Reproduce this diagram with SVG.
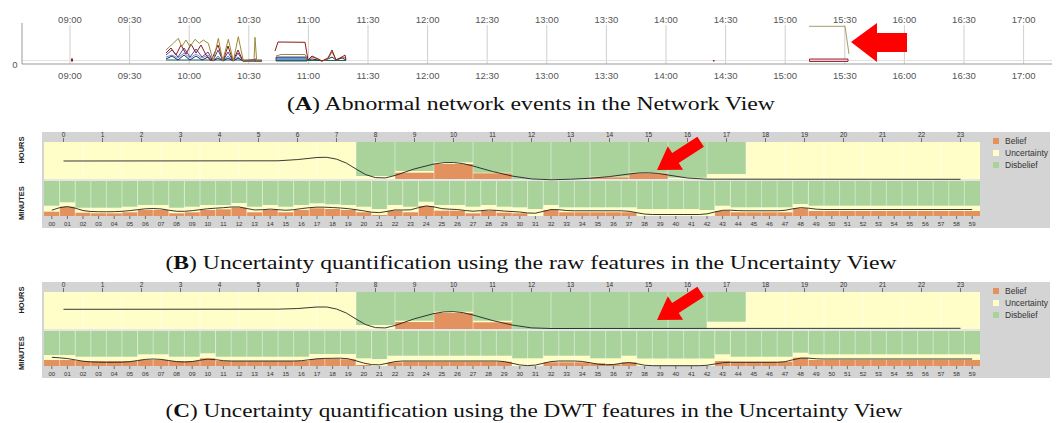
<svg xmlns="http://www.w3.org/2000/svg" xmlns:xlink="http://www.w3.org/1999/xlink" width="1057" height="423" viewBox="0 0 1057 423">
<style>
.tl{font-family:"Liberation Sans",Arial,sans-serif;font-size:9.5px;fill:#555;text-anchor:middle}
.grid{stroke:#cfcfcf;stroke-width:1;fill:none}
.ax{stroke:#999;stroke-width:1;fill:none}
.hl{font-family:"Liberation Sans",Arial,sans-serif;font-size:6.5px;fill:#333;text-anchor:middle}
.ml{font-family:"Liberation Sans",Arial,sans-serif;font-size:6px;fill:#333;text-anchor:middle}
.lab{font-family:"Liberation Sans",Arial,sans-serif;font-size:7.5px;font-weight:bold;fill:#222;text-anchor:middle}
.leg{font-family:"Liberation Sans",Arial,sans-serif;font-size:8.5px;fill:#333}
.tick{stroke:#555;stroke-width:0.8;fill:none}
.y{fill:#FFFEC8}
.g{fill:#A9D39B}
.o{fill:#E3925F}
.sep{stroke:#ffffff;stroke-opacity:0.45;stroke-width:1;fill:none}
.cv{stroke:#222;stroke-width:0.9;fill:none}
.cap{font-family:"Liberation Serif","Times New Roman",serif;font-size:19px;fill:#111;text-anchor:middle}
.arrow{fill:#FF0000}
</style>
<defs>
<g id="frame">
<rect x="42" y="132" width="1008" height="96" fill="#D4D4D4"/>
<rect x="44" y="179" width="936" height="2" fill="#E6E6E6"/>
<text class="lab" transform="translate(24,150) rotate(-90)">HOURS</text>
<text class="lab" transform="translate(24,203) rotate(-90)">MINUTES</text>
<g class="hl">
<text x="63.5" y="136.5">0</text><text x="102.5" y="136.5">1</text><text x="141.5" y="136.5">2</text><text x="180.5" y="136.5">3</text><text x="219.5" y="136.5">4</text><text x="258.5" y="136.5">5</text><text x="297.5" y="136.5">6</text><text x="336.5" y="136.5">7</text><text x="375.5" y="136.5">8</text><text x="414.5" y="136.5">9</text><text x="453.5" y="136.5">10</text><text x="492.5" y="136.5">11</text><text x="531.5" y="136.5">12</text><text x="570.5" y="136.5">13</text><text x="609.5" y="136.5">14</text><text x="648.5" y="136.5">15</text><text x="687.5" y="136.5">16</text><text x="726.5" y="136.5">17</text><text x="765.5" y="136.5">18</text><text x="804.5" y="136.5">19</text><text x="843.5" y="136.5">20</text><text x="882.5" y="136.5">21</text><text x="921.5" y="136.5">22</text><text x="960.5" y="136.5">23</text>
</g>
<path class="tick" d="M63.5,138v4M102.5,138v4M141.5,138v4M180.5,138v4M219.5,138v4M258.5,138v4M297.5,138v4M336.5,138v4M375.5,138v4M414.5,138v4M453.5,138v4M492.5,138v4M531.5,138v4M570.5,138v4M609.5,138v4M648.5,138v4M687.5,138v4M726.5,138v4M765.5,138v4M804.5,138v4M843.5,138v4M882.5,138v4M921.5,138v4M960.5,138v4"/>
<path class="tick" d="M51.8,216v3M67.4,216v3M83,216v3M98.6,216v3M114.2,216v3M129.8,216v3M145.4,216v3M161,216v3M176.6,216v3M192.2,216v3M207.8,216v3M223.4,216v3M239,216v3M254.6,216v3M270.2,216v3M285.8,216v3M301.4,216v3M317,216v3M332.6,216v3M348.2,216v3M363.8,216v3M379.4,216v3M395,216v3M410.6,216v3M426.2,216v3M441.8,216v3M457.4,216v3M473,216v3M488.6,216v3M504.2,216v3M519.8,216v3M535.4,216v3M551,216v3M566.6,216v3M582.2,216v3M597.8,216v3M613.4,216v3M629,216v3M644.6,216v3M660.2,216v3M675.8,216v3M691.4,216v3M707,216v3M722.6,216v3M738.2,216v3M753.8,216v3M769.4,216v3M785,216v3M800.6,216v3M816.2,216v3M831.8,216v3M847.4,216v3M863,216v3M878.6,216v3M894.2,216v3M909.8,216v3M925.4,216v3M941,216v3M956.6,216v3M972.2,216v3"/>
<g class="ml">
<text x="51.8" y="226">00</text><text x="67.4" y="226">01</text><text x="83" y="226">02</text><text x="98.6" y="226">03</text><text x="114.2" y="226">04</text><text x="129.8" y="226">05</text><text x="145.4" y="226">06</text><text x="161" y="226">07</text><text x="176.6" y="226">08</text><text x="192.2" y="226">09</text><text x="207.8" y="226">10</text><text x="223.4" y="226">11</text><text x="239" y="226">12</text><text x="254.6" y="226">13</text><text x="270.2" y="226">14</text><text x="285.8" y="226">15</text><text x="301.4" y="226">16</text><text x="317" y="226">17</text><text x="332.6" y="226">18</text><text x="348.2" y="226">19</text><text x="363.8" y="226">20</text><text x="379.4" y="226">21</text><text x="395" y="226">22</text><text x="410.6" y="226">23</text><text x="426.2" y="226">24</text><text x="441.8" y="226">25</text><text x="457.4" y="226">26</text><text x="473" y="226">27</text><text x="488.6" y="226">28</text><text x="504.2" y="226">29</text><text x="519.8" y="226">30</text><text x="535.4" y="226">31</text><text x="551" y="226">32</text><text x="566.6" y="226">33</text><text x="582.2" y="226">34</text><text x="597.8" y="226">35</text><text x="613.4" y="226">36</text><text x="629" y="226">37</text><text x="644.6" y="226">38</text><text x="660.2" y="226">39</text><text x="675.8" y="226">40</text><text x="691.4" y="226">41</text><text x="707" y="226">42</text><text x="722.6" y="226">43</text><text x="738.2" y="226">44</text><text x="753.8" y="226">45</text><text x="769.4" y="226">46</text><text x="785" y="226">47</text><text x="800.6" y="226">48</text><text x="816.2" y="226">49</text><text x="831.8" y="226">50</text><text x="847.4" y="226">51</text><text x="863" y="226">52</text><text x="878.6" y="226">53</text><text x="894.2" y="226">54</text><text x="909.8" y="226">55</text><text x="925.4" y="226">56</text><text x="941" y="226">57</text><text x="956.6" y="226">58</text><text x="972.2" y="226">59</text>
</g>
<rect x="993" y="138" width="6" height="6" class="o"/>
<rect x="993" y="150" width="6" height="6" class="y"/>
<rect x="993" y="162" width="6" height="6" class="g"/>
<text class="leg" x="1005" y="144">Belief</text>
<text class="leg" x="1005" y="156">Uncertainty</text>
<text class="leg" x="1005" y="168">Disbelief</text>
</g>
<path id="hsep" class="sep" d="M83,142v37M122,142v37M161,142v37M200,142v37M239,142v37M278,142v37M317,142v37M356,142v37M395,142v37M434,142v37M473,142v37M512,142v37M551,142v37M590,142v37M629,142v37M668,142v37M707,142v37M746,142v37M785,142v37M824,142v37M863,142v37M902,142v37M941,142v37"/>
<path id="msep" class="sep" d="M59.6,181v35M75.2,181v35M90.8,181v35M106.4,181v35M122,181v35M137.6,181v35M153.2,181v35M168.8,181v35M184.4,181v35M200,181v35M215.6,181v35M231.2,181v35M246.8,181v35M262.4,181v35M278,181v35M293.6,181v35M309.2,181v35M324.8,181v35M340.4,181v35M356,181v35M371.6,181v35M387.2,181v35M402.8,181v35M418.4,181v35M434,181v35M449.6,181v35M465.2,181v35M480.8,181v35M496.4,181v35M512,181v35M527.6,181v35M543.2,181v35M558.8,181v35M574.4,181v35M590,181v35M605.6,181v35M621.2,181v35M636.8,181v35M652.4,181v35M668,181v35M683.6,181v35M699.2,181v35M714.8,181v35M730.4,181v35M746,181v35M761.6,181v35M777.2,181v35M792.8,181v35M808.4,181v35M824,181v35M839.6,181v35M855.2,181v35M870.8,181v35M886.4,181v35M902,181v35M917.6,181v35M933.2,181v35M948.8,181v35M964.4,181v35"/>
<polygon id="arr" class="arrow" points="0,0 -22,-14 -22,-6 -52,-6 -52,6 -22,6 -22,14"/>
</defs>

<g id="panelA">
<g class="tl">
<text x="70" y="22.5">09:00</text><text x="129.6" y="22.5">09:30</text><text x="189.2" y="22.5">10:00</text><text x="248.8" y="22.5">10:30</text><text x="308.4" y="22.5">11:00</text><text x="368" y="22.5">11:30</text><text x="427.6" y="22.5">12:00</text><text x="487.2" y="22.5">12:30</text><text x="546.8" y="22.5">13:00</text><text x="606.4" y="22.5">13:30</text><text x="666" y="22.5">14:00</text><text x="725.6" y="22.5">14:30</text><text x="785.2" y="22.5">15:00</text><text x="844.8" y="22.5">15:30</text><text x="904.4" y="22.5">16:00</text><text x="964" y="22.5">16:30</text><text x="1023.6" y="22.5">17:00</text>
<text x="70" y="79">09:00</text><text x="129.6" y="79">09:30</text><text x="189.2" y="79">10:00</text><text x="248.8" y="79">10:30</text><text x="308.4" y="79">11:00</text><text x="368" y="79">11:30</text><text x="427.6" y="79">12:00</text><text x="487.2" y="79">12:30</text><text x="546.8" y="79">13:00</text><text x="606.4" y="79">13:30</text><text x="666" y="79">14:00</text><text x="725.6" y="79">14:30</text><text x="785.2" y="79">15:00</text><text x="844.8" y="79">15:30</text><text x="904.4" y="79">16:00</text><text x="964" y="79">16:30</text><text x="1023.6" y="79">17:00</text>
<text x="15" y="67.5">0</text>
</g>
<path class="grid" d="M70,25V64M129.6,25V64M189.2,25V64M248.8,25V64M308.4,25V64M368,25V64M427.6,25V64M487.2,25V64M546.8,25V64M606.4,25V64M666,25V64M725.6,25V64M785.2,25V64M844.8,25V64M904.4,25V64M964,25V64M1023.6,25V64"/>
<path d="M22,60.5H1052" stroke="#e2e2e2" stroke-width="1" fill="none"/>
<path class="ax" d="M22,23V64H1052"/>
<g id="series" fill="none" stroke-width="1" stroke-linejoin="round">
<polyline stroke="#1d6b4a" points="166,60 262,60"/>
<polyline stroke="#6f93cf" points="166,57 172,55 178,58 184,53 190,58 196,54 202,58 208,55 213,61 218,56 223,61 228,56 233,61 238,57 243,61 262,61"/>
<polyline stroke="#1c2a70" points="166,59 172,56 178,60 184,55 190,60 196,56 202,60 208,57 213,61 218,58 223,61 228,58 233,61 238,58 243,61 262,61"/>
<polyline stroke="#5b3f96" points="166,55 172,50 178,57 184,48 190,57 196,49 202,57 208,52 213,61 218,50 223,61 228,52 233,61 238,53 243,61 262,61"/>
<polyline stroke="#8b1a1a" points="166,53 171,48 176,55 181,45 186,54 191,44 196,53 201,45 206,55 211,61 218,45 223,61 228,46 233,61 238,50 243,61 252,60 256,59 258,61 262,61"/>
<polyline stroke="#9c8a3a" points="166,50 173.3,43.3 178.3,38.3 181.7,46.7 186,40 190,46.7 195,39.3 199.3,43.3 203.3,40 208.3,43.3 213.3,61 218.3,38.3 222.7,61 228.3,39.3 233.3,61 238.3,36.7 243.3,61 254,61 255,37.3 256.7,61 262,61"/>
<rect x="276" y="57" width="31" height="4" fill="#6f93cf" stroke="#1c2a70" stroke-width="0.8"/>
<polyline stroke="#1d6b4a" points="276,60.5 346,60.5"/>
<polyline stroke="#1c2a70" points="307,60 312,59 318,60 322,61 328,59 332,57 336,60 342,58 346,60"/>
<polyline stroke="#9c8a3a" points="276,56 281,54.5 305,54.5 308,60 312,57 318,59 322,61 328,59 332,52 336,60 342,57 346,58"/>
<polyline stroke="#8b1a1a" points="275,51 278,42 305,42.3 308,60 312,56 318,59 322,61 328,58 332,50 336,60 342,57 345,55 346,60"/>
<rect x="71" y="58.5" width="2" height="3" fill="#8b1a1a" stroke="none"/>
<rect x="713" y="60" width="1.5" height="1.5" fill="#8b1a1a" stroke="none"/>
<polyline stroke="#a89a6a" points="809,26.3 845,26.3 849,54"/>
<rect x="809.5" y="59" width="38.5" height="2.5" fill="#f2c6cf" stroke="#8b1a2a" stroke-width="0.9"/>
</g>
</g>

<g id="panelB">
<use xlink:href="#frame"/>
<g id="B-hours">
<rect x="44" y="142" width="936" height="37" class="y"/>
<rect x="356" y="142" width="39" height="34" class="g"/>
<rect x="395" y="142" width="39" height="29" class="g"/>
<rect x="434" y="142" width="39" height="20.3" class="g"/>
<rect x="473" y="142" width="39" height="30.7" class="g"/>
<rect x="512" y="142" width="78" height="37" class="g"/>
<rect x="590" y="142" width="39" height="34.7" class="g"/>
<rect x="629" y="142" width="39" height="30.7" class="g"/>
<rect x="668" y="142" width="39" height="35.7" class="g"/>
<rect x="707" y="142" width="39" height="32" class="g"/>
<rect x="395" y="172.7" width="39" height="6.3" class="o"/>
<rect x="434" y="164" width="39" height="15" class="o"/>
<rect x="473" y="173.3" width="39" height="5.7" class="o"/>
<rect x="590" y="177.3" width="39" height="1.7" class="o"/>
<rect x="629" y="173.3" width="39" height="5.7" class="o"/>
<use xlink:href="#hsep"/>
<path class="cv" d="M63.5,161 L278,160.8 Q297.5,160 317,157.5 Q336.5,155 356,169 Q375.5,183 395,175.5 Q414.5,168 434,164 Q453.5,160 473,166 Q492.5,172 512,176 Q531.5,180 551,179.75 Q570.5,179.5 590,178.25 Q609.5,177 629,174 Q648.5,171 668,175 Q687.5,179 707,179.15 L960.5,179.3"/>
</g>
<g id="B-minutes">
<rect x="44" y="181" width="936" height="35" class="y"/>
<g class="g">
<rect x="44" y="181" width="15.6" height="24.7"/>
<rect x="59.6" y="181" width="15.6" height="21.3"/>
<rect x="75.2" y="181" width="46.8" height="26.7"/>
<rect x="122" y="181" width="15.6" height="25.7"/>
<rect x="137.6" y="181" width="31.2" height="24"/>
<rect x="168.8" y="181" width="15.6" height="26.7"/>
<rect x="184.4" y="181" width="15.6" height="25.7"/>
<rect x="200" y="181" width="31.2" height="24"/>
<rect x="231.2" y="181" width="15.6" height="22"/>
<rect x="246.8" y="181" width="15.6" height="25.7"/>
<rect x="262.4" y="181" width="15.6" height="24"/>
<rect x="278" y="181" width="15.6" height="25.7"/>
<rect x="293.6" y="181" width="15.6" height="24"/>
<rect x="309.2" y="181" width="15.6" height="22.3"/>
<rect x="324.8" y="181" width="15.6" height="23.3"/>
<rect x="340.4" y="181" width="15.6" height="24"/>
<rect x="356" y="181" width="15.6" height="25.7"/>
<rect x="371.6" y="181" width="15.6" height="28"/>
<rect x="387.2" y="181" width="15.6" height="24"/>
<rect x="402.8" y="181" width="15.6" height="25.7"/>
<rect x="418.4" y="181" width="15.6" height="20.7"/>
<rect x="434" y="181" width="31.2" height="24"/>
<rect x="465.2" y="181" width="15.6" height="25.7"/>
<rect x="480.8" y="181" width="15.6" height="24"/>
<rect x="496.4" y="181" width="15.6" height="25.7"/>
<rect x="512" y="181" width="15.6" height="26.3"/>
<rect x="527.6" y="181" width="15.6" height="28"/>
<rect x="543.2" y="181" width="15.6" height="24"/>
<rect x="558.8" y="181" width="78" height="26.3"/>
<rect x="636.8" y="181" width="62.4" height="28"/>
<rect x="699.2" y="181" width="15.6" height="29"/>
<rect x="714.8" y="181" width="15.6" height="24.7"/>
<rect x="730.4" y="181" width="62.4" height="26.3"/>
<rect x="792.8" y="181" width="15.6" height="23"/>
<rect x="808.4" y="181" width="171.6" height="24.7"/>
</g>
<g class="o">
<rect x="44" y="211.7" width="15.6" height="4.3"/>
<rect x="59.6" y="206.7" width="15.6" height="9.3"/>
<rect x="75.2" y="212.7" width="15.6" height="3.3"/>
<rect x="90.8" y="213.3" width="31.2" height="2.7"/>
<rect x="122" y="212.3" width="15.6" height="3.7"/>
<rect x="137.6" y="210" width="31.2" height="6"/>
<rect x="168.8" y="213.3" width="15.6" height="2.7"/>
<rect x="184.4" y="212.3" width="15.6" height="3.7"/>
<rect x="200" y="210" width="15.6" height="6"/>
<rect x="215.6" y="209.3" width="15.6" height="6.7"/>
<rect x="231.2" y="207.7" width="15.6" height="8.3"/>
<rect x="246.8" y="212.3" width="15.6" height="3.7"/>
<rect x="262.4" y="210" width="15.6" height="6"/>
<rect x="278" y="212.3" width="15.6" height="3.7"/>
<rect x="293.6" y="210" width="15.6" height="6"/>
<rect x="309.2" y="208.3" width="15.6" height="7.7"/>
<rect x="324.8" y="209" width="15.6" height="7"/>
<rect x="340.4" y="210" width="15.6" height="6"/>
<rect x="356" y="212.3" width="15.6" height="3.7"/>
<rect x="371.6" y="215" width="15.6" height="1"/>
<rect x="387.2" y="210.7" width="15.6" height="5.3"/>
<rect x="402.8" y="212.3" width="15.6" height="3.7"/>
<rect x="418.4" y="206" width="15.6" height="10"/>
<rect x="434" y="210.7" width="31.2" height="5.3"/>
<rect x="465.2" y="213.3" width="15.6" height="2.7"/>
<rect x="480.8" y="211" width="15.6" height="5"/>
<rect x="496.4" y="212.7" width="15.6" height="3.3"/>
<rect x="512" y="213.3" width="15.6" height="2.7"/>
<rect x="543.2" y="210" width="15.6" height="6"/>
<rect x="558.8" y="212.3" width="78" height="3.7"/>
<rect x="714.8" y="211" width="15.6" height="5"/>
<rect x="730.4" y="212.3" width="62.4" height="3.7"/>
<rect x="792.8" y="208.3" width="15.6" height="7.7"/>
<rect x="808.4" y="211" width="171.6" height="5"/>
</g>
<use xlink:href="#msep"/>
<path class="cv" d="M51.8,210.2 L59.6,207.7 Q67.4,205.2 75.2,208.2 Q83,211.2 90.8,211.5 Q98.6,211.8 106.4,211.8 Q114.2,211.8 122,211.3 Q129.8,210.8 137.6,209.7 Q145.4,208.5 153.2,208.5 Q161,208.5 168.8,210.2 Q176.6,211.8 184.4,211.3 Q192.2,210.8 200,209.7 Q207.8,208.5 215.6,208.2 Q223.4,207.8 231.2,207 Q239,206.2 246.8,208.5 Q254.6,210.8 262.4,209.7 Q270.2,208.5 278,209.7 Q285.8,210.8 293.6,209.7 Q301.4,208.5 309.2,207.7 Q317,206.8 324.8,207.2 Q332.6,207.5 340.4,208 Q348.2,208.5 356,209.7 Q363.8,210.8 371.6,212.2 Q379.4,213.5 387.2,211.4 Q395,209.2 402.8,210 Q410.6,210.8 418.4,207.7 Q426.2,204.5 434,206.9 Q441.8,209.2 449.6,209.2 Q457.4,209.2 465.2,210.5 Q473,211.8 480.8,210.7 Q488.6,209.5 496.4,210.4 Q504.2,211.2 512,211.5 Q519.8,211.8 527.6,213 Q535.4,214.2 543.2,211.4 Q551,208.5 558.8,209.7 Q566.6,210.8 574.4,210.8 L621.2,210.8 Q629,210.8 636.8,212.7 Q644.6,214.5 652.4,214.5 L699.2,214.5 Q707,214.5 714.8,212 Q722.6,209.5 730.4,210.2 Q738.2,210.8 746,210.8 L777.2,210.8 Q785,210.8 792.8,208.8 Q800.6,206.8 808.4,208.2 Q816.2,209.5 824,209.5 L972.2,209.5"/>
</g>
</g>

<g id="panelC">
<use xlink:href="#frame" y="150"/>
<g id="C-hours">
<rect x="44" y="292" width="936" height="37" class="y"/>
<rect x="356" y="292" width="39" height="33" class="g"/>
<rect x="395" y="292" width="39" height="28.7" class="g"/>
<rect x="434" y="292" width="39" height="19.7" class="g"/>
<rect x="473" y="292" width="39" height="28.7" class="g"/>
<rect x="512" y="292" width="195" height="37" class="g"/>
<rect x="707" y="292" width="39" height="29.7" class="g"/>
<rect x="395" y="322" width="39" height="7" class="o"/>
<rect x="434" y="313" width="39" height="16" class="o"/>
<rect x="473" y="322.3" width="39" height="6.7" class="o"/>
<use xlink:href="#hsep" y="150"/>
<path class="cv" d="M63.5,309.3 L278,309.15 Q297.5,309 317,307 Q336.5,305 356,319 Q375.5,333 395,325.5 Q414.5,318 434,313.5 Q453.5,309 473,315 Q492.5,321 512,325 Q531.5,329 551,328.5 L960.5,328.3"/>
</g>
<g id="C-minutes">
<rect x="44" y="331" width="936" height="35" class="y"/>
<g class="g">
<rect x="44" y="331" width="31.2" height="24"/>
<rect x="75.2" y="331" width="62.4" height="25.7"/>
<rect x="137.6" y="331" width="31.2" height="23.3"/>
<rect x="168.8" y="331" width="31.2" height="25.7"/>
<rect x="200" y="331" width="15.6" height="22.3"/>
<rect x="215.6" y="331" width="93.6" height="25.7"/>
<rect x="309.2" y="331" width="46.8" height="23"/>
<rect x="356" y="331" width="15.6" height="27.3"/>
<rect x="371.6" y="331" width="15.6" height="28"/>
<rect x="387.2" y="331" width="124.8" height="24.7"/>
<rect x="512" y="331" width="31.2" height="27.3"/>
<rect x="543.2" y="331" width="46.8" height="24.7"/>
<rect x="590" y="331" width="31.2" height="27.3"/>
<rect x="621.2" y="331" width="15.6" height="24.7"/>
<rect x="636.8" y="331" width="78" height="27.5"/>
<rect x="714.8" y="331" width="15.6" height="23.3"/>
<rect x="730.4" y="331" width="62.4" height="25.7"/>
<rect x="792.8" y="331" width="15.6" height="21.7"/>
<rect x="808.4" y="331" width="171.6" height="23.3"/>
</g>
<g class="o">
<rect x="44" y="360" width="31.2" height="6"/>
<rect x="75.2" y="361" width="62.4" height="5"/>
<rect x="137.6" y="360" width="31.2" height="6"/>
<rect x="168.8" y="361" width="31.2" height="5"/>
<rect x="200" y="358.3" width="15.6" height="7.7"/>
<rect x="215.6" y="361" width="93.6" height="5"/>
<rect x="309.2" y="359" width="31.2" height="7"/>
<rect x="340.4" y="359.3" width="15.6" height="6.7"/>
<rect x="356" y="365" width="15.6" height="1"/>
<rect x="387.2" y="362.3" width="15.6" height="3.7"/>
<rect x="402.8" y="361.7" width="109.2" height="4.3"/>
<rect x="543.2" y="362.3" width="46.8" height="3.7"/>
<rect x="590" y="363.3" width="15.6" height="2.7"/>
<rect x="605.6" y="364.3" width="15.6" height="1.7"/>
<rect x="621.2" y="362.3" width="15.6" height="3.7"/>
<rect x="714.8" y="361" width="15.6" height="5"/>
<rect x="730.4" y="361.7" width="62.4" height="4.3"/>
<rect x="792.8" y="357.7" width="15.6" height="8.3"/>
<rect x="808.4" y="360" width="171.6" height="6"/>
</g>
<use xlink:href="#msep" y="150"/>
<path class="cv" d="M51.8,357.3 L59.6,357.8 Q67.4,358.3 75.2,359.9 Q83,361.5 90.8,361.9 Q98.6,362.3 106.4,362.3 Q114.2,362.3 122,362.2 Q129.8,362 137.6,360.5 Q145.4,359 153.2,359 Q161,359 168.8,360.5 Q176.6,362 184.4,362 Q192.2,362 200,360.2 Q207.8,358.3 215.6,359.7 Q223.4,361 231.2,361 L293.6,361 Q301.4,361 309.2,359.75 Q317,358.5 324.8,358.4 Q332.6,358.3 340.4,358.2 Q348.2,358 356,360.75 Q363.8,363.5 371.6,364.6 Q379.4,365.7 387.2,363.35 Q395,361 402.8,361 L496.4,361 Q504.2,361 512,363.25 Q519.8,365.5 527.6,365.6 Q535.4,365.7 543.2,363.35 Q551,361 558.8,361 L574.4,361 Q582.2,361 590,362.75 Q597.8,364.5 605.6,364.75 Q613.4,365 621.2,363.35 Q629,361.7 636.8,363.7 Q644.6,365.7 652.4,365.7 L699.2,365.7 Q707,365.7 714.8,364 Q722.6,362.3 730.4,362.3 L777.2,362.3 Q785,362.3 792.8,359.8 Q800.6,357.3 808.4,358.15 Q816.2,359 824,359 L972.2,359"/>
</g>
</g>

<g id="arrows">
<polygon class="arrow" points="851,42 877,23 877,33 907,33 907,52 877,52 877,62"/>
<use xlink:href="#arr" transform="translate(657,170) rotate(147)"/>
<use xlink:href="#arr" transform="translate(657,320) rotate(147)"/>
</g>

<g id="captions">
<text class="cap" x="531" y="110" textLength="488" lengthAdjust="spacingAndGlyphs">(<tspan font-weight="bold">A</tspan>) Abnormal network events in the Network View</text>
<text class="cap" x="531" y="269" textLength="731" lengthAdjust="spacingAndGlyphs">(<tspan font-weight="bold">B</tspan>) Uncertainty quantification using the raw features in the Uncertainty View</text>
<text class="cap" x="534" y="417" textLength="737" lengthAdjust="spacingAndGlyphs">(<tspan font-weight="bold">C</tspan>) Uncertainty quantification using the DWT features in the Uncertainty View</text>
</g>
</svg>
